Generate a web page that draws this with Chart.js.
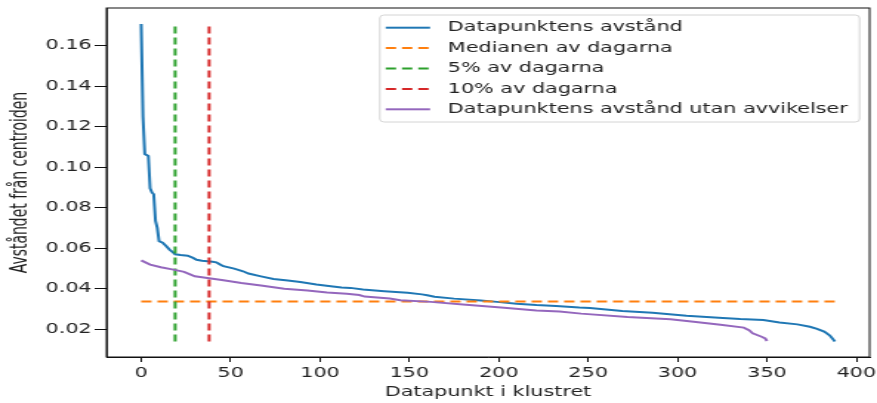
<!DOCTYPE html>
<html>
<head>
<meta charset="utf-8">
<script src="https://cdn.jsdelivr.net/npm/chart.js@4.4.1/dist/chart.umd.min.js"></script>
<style>
html, body { margin: 0; padding: 0; background: #fff; overflow: hidden; }
#wrap { width: 593px; height: 403px; transform: scaleX(1.4789); transform-origin: 0 0; }
</style>
</head>
<body>
<div id="wrap"><canvas id="chart"></canvas></div>
<script>
// readings taken off the sorted distance curves
const blueIdx = [0, 1, 2, 4, 5, 6, 7, 8, 9, 10, 12, 14, 16, 18, 19, 22, 26, 29, 31, 34, 37, 40, 42, 44, 46,
    52, 57, 60, 67, 74, 82, 89, 98, 106, 112, 117, 124, 136, 149, 157, 160, 164, 175, 190, 199, 210, 221,
    232, 245, 251, 269, 286, 305, 323, 335, 348, 357, 367, 374, 378, 382, 385, 386, 388];
const blueDist = [0.1706, 0.125, 0.1065, 0.1055, 0.0895, 0.0875, 0.0866, 0.0735, 0.0700, 0.0635, 0.0627,
    0.0610, 0.0592, 0.0578, 0.0570, 0.0566, 0.0563, 0.0552, 0.0543, 0.0538, 0.0535, 0.0533, 0.0530, 0.0520,
    0.0511, 0.0499, 0.0486, 0.0475, 0.0461, 0.0448, 0.0440, 0.0433, 0.0421, 0.0412, 0.0406, 0.0404, 0.0396,
    0.0388, 0.0380, 0.0372, 0.0368, 0.0360, 0.0351, 0.0342, 0.0335, 0.0326, 0.0319, 0.0315, 0.0307, 0.0305,
    0.0290, 0.0281, 0.0266, 0.0257, 0.0250, 0.0245, 0.0233, 0.0224, 0.0212, 0.0202, 0.0188, 0.0170, 0.0160,
    0.0140];
const purpleIdx = [0, 5, 11, 18, 24, 27, 30, 37, 46, 56, 67, 80, 93, 104, 115, 122, 125, 139, 145, 162, 180,
    203, 221, 234, 246, 272, 296, 309, 324, 337, 340, 342, 347, 349, 350];
const purpleDist = [0.0540, 0.0519, 0.0506, 0.0494, 0.0483, 0.0472, 0.0461, 0.0453, 0.0442, 0.0428, 0.0416,
    0.0400, 0.0391, 0.0381, 0.0375, 0.0369, 0.0361, 0.0352, 0.0343, 0.0335, 0.0322, 0.0306, 0.0293, 0.0288,
    0.0277, 0.0260, 0.0249, 0.0237, 0.0222, 0.0208, 0.0195, 0.0180, 0.0163, 0.0155, 0.0142];
const medianValue = 0.0337;
const medianSpan = [0, 388];
const pct5Index = 19;
const pct10Index = 38;
const xTicks = [0, 50, 100, 150, 200, 250, 300, 350, 400];
const yTicks = [0.02, 0.04, 0.06, 0.08, 0.10, 0.12, 0.14, 0.16];
const seriesLabels = ['Datapunktens avstånd', 'Medianen av dagarna', '5% av dagarna', '10% av dagarna',
    'Datapunktens avstånd utan avvikelser'];

const dMin = Math.min(...blueDist);
const dMax = Math.max(...blueDist);
const pts = (xs, ys) => xs.map((x, i) => ({ x: x, y: ys[i] }));
const dash = [7, 4];

Chart.defaults.font.family = '"DejaVu Sans", sans-serif';
Chart.defaults.font.size = 14;
Chart.defaults.color = '#222';

const frame = {
    id: 'frame',
    afterDraw(chart) {
        const { ctx, chartArea: a } = chart;
        ctx.save();
        ctx.strokeStyle = '#111';
        ctx.lineWidth = 1;
        ctx.strokeRect(a.left, a.top, a.right - a.left, a.bottom - a.top);
        ctx.restore();
    }
};

const legendBox = {
    id: 'legendBox',
    afterDraw(chart) {
        const { ctx, chartArea } = chart;
        const sets = chart.data.datasets;
        ctx.save();
        ctx.font = '14px "DejaVu Sans"';
        const maxW = Math.max(...sets.map(d => ctx.measureText(d.label).width));
        const rowH = 20.4, handle = 30, gap = 12, padL = 4, padR = 8, padV = 12.7;
        const right = chartArea.right - 6.8;
        const top = chartArea.top + 7;
        const w = padL + handle + gap + maxW + padR;
        const h = padV * 2 + rowH * (sets.length - 1);
        const left = right - w;
        ctx.fillStyle = 'rgba(255,255,255,0.8)';
        ctx.strokeStyle = '#d4d4d4';
        ctx.lineWidth = 1;
        ctx.beginPath();
        ctx.roundRect(left, top, w, h, 3);
        ctx.fill();
        ctx.stroke();
        sets.forEach((d, i) => {
            const y = top + padV + i * rowH;
            ctx.strokeStyle = d.borderColor;
            ctx.lineWidth = d.borderWidth;
            ctx.setLineDash(d.borderDash || []);
            ctx.beginPath();
            ctx.moveTo(left + padL, y);
            ctx.lineTo(left + padL + handle, y);
            ctx.stroke();
            ctx.setLineDash([]);
            ctx.fillStyle = '#222';
            ctx.textBaseline = 'middle';
            ctx.fillText(d.label, left + padL + handle + gap, y);
        });
        ctx.restore();
    }
};

const line = (label, data, color, order, extra) => Object.assign({
    label: label, data: data, borderColor: color, backgroundColor: color,
    borderWidth: 2, showLine: true, pointRadius: 0, tension: 0, order: order
}, extra || {});

new Chart(document.getElementById('chart'), {
    type: 'scatter',
    data: {
        datasets: [
            line(seriesLabels[0], pts(blueIdx, blueDist), '#1f77b4', 5),
            line(seriesLabels[1], pts(medianSpan, [medianValue, medianValue]), '#ff7f0e', 4, { borderDash: dash }),
            line(seriesLabels[2], pts([pct5Index, pct5Index], [dMin, dMax]), '#2ca02c', 3, { borderDash: dash }),
            line(seriesLabels[3], pts([pct10Index, pct10Index], [dMin, dMax]), '#d62728', 2, { borderDash: dash }),
            line(seriesLabels[4], pts(purpleIdx, purpleDist), '#9467bd', 1)
        ]
    },
    options: {
        responsive: true,
        maintainAspectRatio: false,
        animation: false,
        layout: { padding: { left: 0, right: 5, top: 8, bottom: 0 } },
        plugins: { legend: { display: false }, tooltip: { enabled: false } },
        scales: {
            x: {
                type: 'linear',
                min: -19.4,
                max: 407.4,
                afterBuildTicks: s => { s.ticks = xTicks.map(v => ({ value: v })); },
                afterFit: s => { s.height = 46; s.paddingLeft = 0; s.paddingRight = 0; },
                grid: { drawOnChartArea: false, drawTicks: true, tickLength: 5, color: '#111', lineWidth: 1 },
                border: { display: true, color: '#111', width: 1 },
                ticks: { padding: 3, color: '#222', maxRotation: 0 },
                title: { display: true, text: 'Datapunkt i klustret', color: '#222', padding: { top: 0, bottom: 2 } }
            },
            y: {
                type: 'linear',
                min: 0.0063,
                max: 0.1785,
                afterBuildTicks: s => { s.ticks = yTicks.map(v => ({ value: v })); },
                afterFit: s => { s.width = 72; s.paddingTop = 0; s.paddingBottom = 0; },
                grid: { drawOnChartArea: false, drawTicks: true, tickLength: 8, color: '#111', lineWidth: 1 },
                border: { display: true, color: '#111', width: 1 },
                ticks: { padding: 2, color: '#222', callback: v => v.toFixed(2) },
                title: {
                    display: true, text: 'Avståndet från centroiden', color: '#222',
                    font: { family: '"Liberation Sans Narrow", "DejaVu Sans Condensed", sans-serif', size: 15.5 },
                    padding: { top: 5, bottom: 0 }
                }
            }
        }
    },
    plugins: [frame, legendBox]
});
</script>
</body>
</html>
